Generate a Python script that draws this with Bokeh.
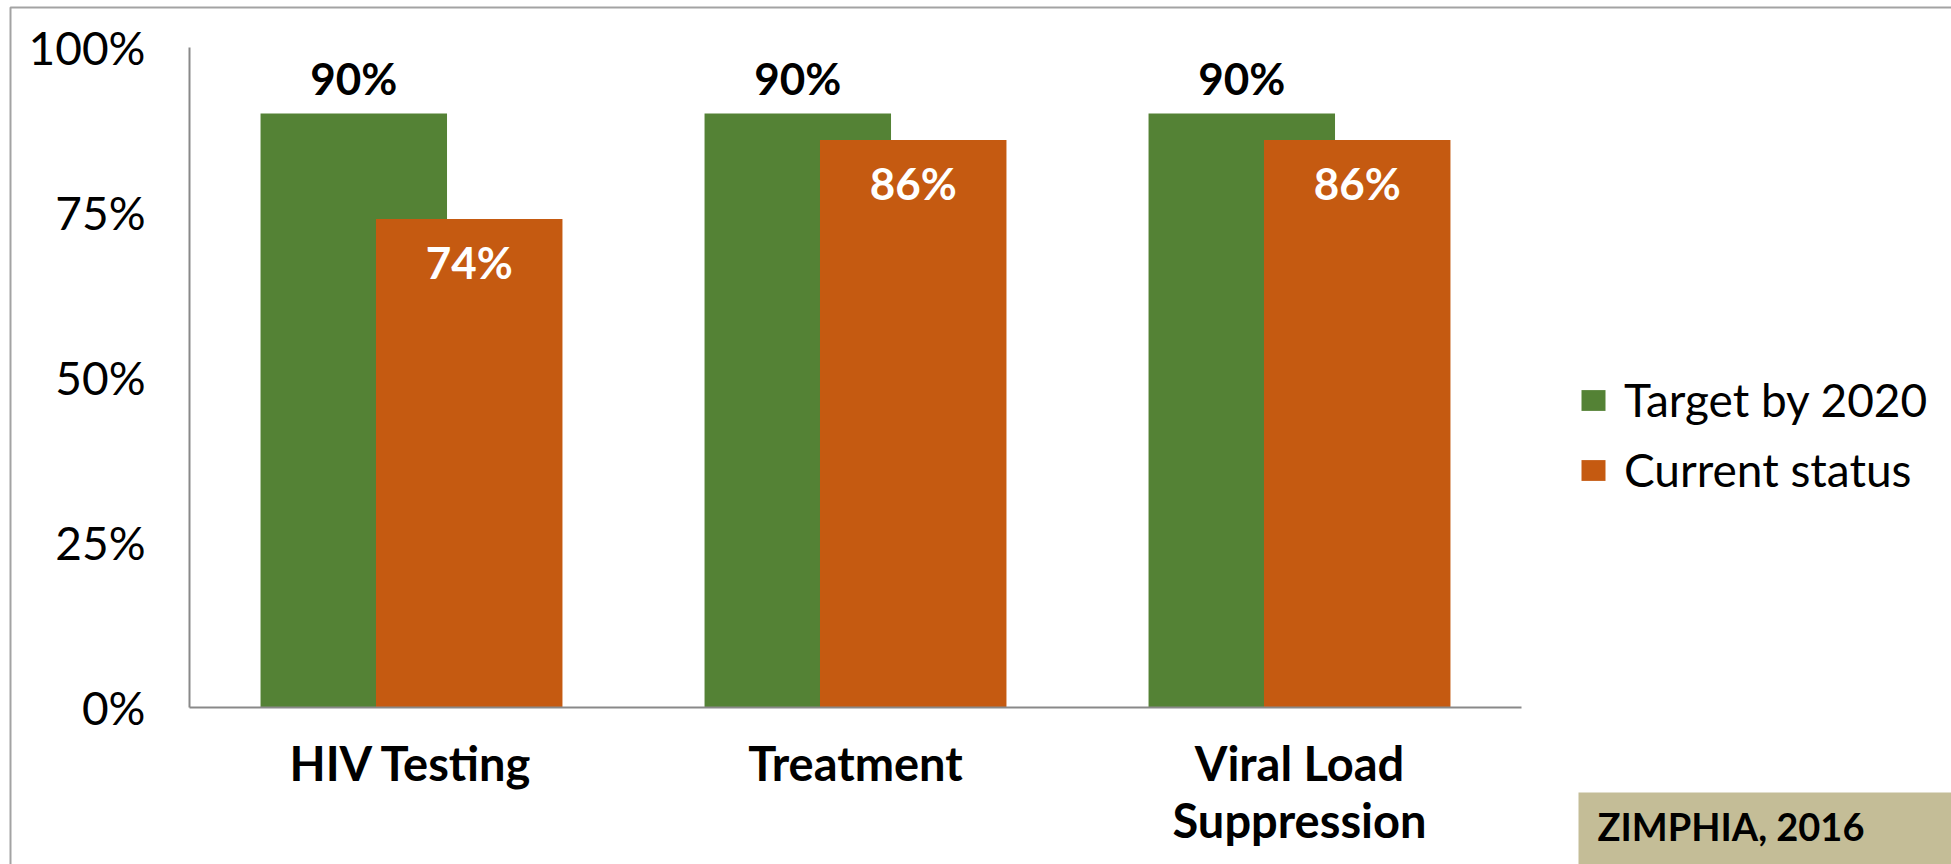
from bokeh.plotting import figure
from bokeh.models import (ColumnDataSource, Range1d, FixedTicker, Legend, LegendItem, Label)
from bokeh.core.properties import value
from bokeh.embed import file_html
from bokeh.resources import INLINE

categories = ["HIV Testing", "Treatment", "Viral Load\nSuppression"]
target_2020 = [90, 90, 90]
current_status = [74, 86, 86]
y_ticks = [0, 25, 50, 75, 100]
y_tick_labels = ["0%", "25%", "50%", "75%", "100%"]
series_names = ["Target by 2020", "Current status"]
source_note = "ZIMPHIA, 2016"

GREEN = "#548235"
ORANGE = "#C55A11"
TAN = "#C4BD97"
AXIS = "#898989"
FONT = "Lato"

W, H = 1951, 864
# pixel layout of the plotting area inside the canvas
X0, X1, Y100, Y0 = 189, 1521, 47, 707
ncat = len(categories)
px_per_cat = (X1 - X0) / ncat
px_per_unit = (Y0 - Y100) / 100.0

pos = [i + 0.5 for i in range(ncat)]
OFF = 0.13
BW = 0.42

src = ColumnDataSource(dict(
    x_t=[c - OFF for c in pos],
    x_c=[c + OFF for c in pos],
    target=target_2020,
    current=current_status,
    target_lbl=[f"{v}%" for v in target_2020],
    current_lbl=[f"{v}%" for v in current_status],
))

x_range = Range1d(-X0 / px_per_cat, (W - X0) / px_per_cat)
y_range = Range1d(-(H - Y0) / px_per_unit, 100 + Y100 / px_per_unit)

p = figure(width=W, height=H, x_range=x_range, y_range=y_range,
           output_backend="svg", toolbar_location=None,
           min_border_left=0, min_border_right=0, min_border_top=0, min_border_bottom=0)
p.outline_line_color = None
p.xgrid.grid_line_color = None
p.ygrid.grid_line_color = None
p.background_fill_color = "white"
p.border_fill_color = "white"

g = p.vbar(x="x_t", top="target", width=BW, source=src, fill_color=GREEN, line_color=None)
o = p.vbar(x="x_c", top="current", width=BW, source=src, fill_color=ORANGE, line_color=None)

p.text(x="x_t", y="target", text="target_lbl", source=src,
       text_font=value(FONT), text_font_style="bold", text_font_size="44px",
       text_align="center", text_baseline="middle", y_offset=-36, text_color="black")
p.text(x="x_c", y="current", text="current_lbl", source=src,
       text_font=value(FONT), text_font_style="bold", text_font_size="44px",
       text_align="center", text_baseline="middle", y_offset=43, text_color="white")

# y axis
p.yaxis.fixed_location = 0
p.yaxis.bounds = (0, 100)
p.yaxis.ticker = FixedTicker(ticks=y_ticks)
p.yaxis.major_label_overrides = {t: l for t, l in zip(y_ticks, y_tick_labels)}
p.yaxis.major_tick_line_color = None
p.yaxis.minor_tick_line_color = None
p.yaxis.axis_line_color = AXIS
p.yaxis.axis_line_width = 2
p.yaxis.major_label_standoff = 38
p.yaxis.major_label_text_font = FONT
p.yaxis.major_label_text_font_size = "46px"
p.yaxis.major_label_text_color = "black"

# x axis
p.xaxis.fixed_location = 0
p.xaxis.bounds = (0, ncat)
p.xaxis.ticker = FixedTicker(ticks=pos)
p.xaxis.major_label_overrides = {t: l for t, l in zip(pos, categories)}
p.xaxis.major_tick_line_color = None
p.xaxis.minor_tick_line_color = None
p.xaxis.axis_line_color = AXIS
p.xaxis.axis_line_width = 2
p.xaxis.major_label_standoff = 21
p.xaxis.major_label_text_font = FONT
p.xaxis.major_label_text_font_style = "bold"
p.xaxis.major_label_text_font_size = "47px"
p.xaxis.major_label_text_color = "black"
p.xaxis.major_label_text_line_height = 1.02

legend = Legend(items=[LegendItem(label=series_names[0], renderers=[g]),
                       LegendItem(label=series_names[1], renderers=[o])],
                location=(1578, H - 497), orientation="vertical",
                glyph_width=30, glyph_height=26, label_standoff=16, label_height=46,
                spacing=15, padding=0, margin=0, border_line_color=None,
                background_fill_alpha=0,
                label_text_font=FONT, label_text_font_size="46px", label_text_color="black")
p.add_layout(legend, "center")

# outer frame border (top and left edges visible)
frame = Label(x=10, y=H - 7, x_units="screen", y_units="screen", text=" ",
              anchor="top_left", text_font_size="10px",
              padding=dict(left=0, top=0, right=2100, bottom=1000),
              border_line_color="#A3A3A3", border_line_width=2,
              background_fill_color=None)
p.add_layout(frame, "center")

note = Label(x=1578, y=H - 792, x_units="screen", y_units="screen", text=source_note,
             anchor="top_left", text_font=FONT, text_font_style="bold",
             text_font_size="38px", text_color="black",
             padding=dict(left=19, top=10, right=200, bottom=60),
             background_fill_color=TAN, border_line_color=None)
p.add_layout(note, "center")

open("out.html", "w").write(file_html(p, INLINE))
